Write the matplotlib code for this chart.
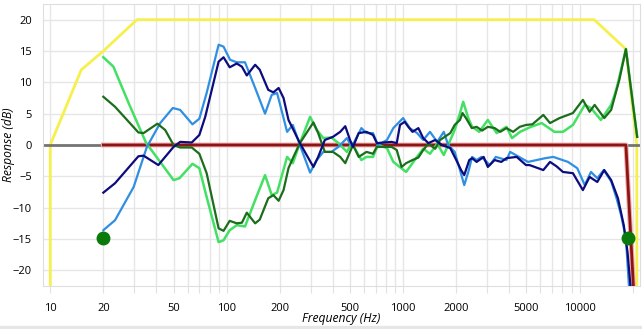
import matplotlib
matplotlib.use("Agg")
import matplotlib.pyplot as plt
from matplotlib.patches import Rectangle

plt.rcParams['font.family'] = ['Open Sans', 'DejaVu Sans']

# light blue trace
lb_f = [20, 23.3, 29.7, 35.3, 42, 49.5, 54.5, 64, 70, 77, 90, 96, 104.5, 114, 127, 145, 165, 180, 193,
        220, 237, 260, 297, 324, 353, 392, 430, 480, 512, 580, 620, 675, 720, 810, 880, 1000, 1090, 1200,
        1300, 1420, 1560, 1700, 1800, 1960, 2100, 2220, 2340, 2460, 2610, 2780, 3100, 3350, 3850, 4040,
        5100, 6400, 7100, 8600, 9700, 10700, 11600, 12600, 13700, 15100, 16200, 17200, 18300, 19100]
lb_db = [-13.6, -12.0, -6.7, -0.3, 3.5, 5.9, 5.6, 3.3, 4.2, 8.3, 16.0, 15.7, 13.6, 13.2, 13.2, 9.1, 5.0, 8.0, 8.3,
         2.1, 3.2, 0.0, -4.4, -2.4, -1.1, -1.1, -0.3, 1.1, -0.3, 2.7, 1.9, 1.9, 0.0, 0.8, 2.7, 4.3, 2.7, 1.9,
         0.8, 2.1, 0.5, 2.1, 0.0, -1.1, -4.0, -6.4, -4.3, -1.9, -2.4, -1.9, -3.2, -1.9, -2.4, -1.1,
         -2.7, -2.1, -1.9, -2.7, -3.7, -6.4, -4.3, -5.3, -4.0, -5.8, -8.5, -11.2, -14.9, -23.0]

# navy trace
nv_f = [20, 23.3, 31.6, 33.8, 41, 50, 54.5, 63.4, 70, 75.6, 90, 96, 104, 114, 122, 130, 145, 154, 172, 184,
        197, 210, 224, 239, 260, 310, 330, 360, 400, 440, 470, 500, 520, 560, 620, 675, 710, 860, 920, 960,
        1020, 1070, 1130, 1220, 1300, 1390, 1520, 1660, 1850, 2000, 2130, 2220, 2370, 2460, 2610, 2860,
        3020, 3300, 3600, 3850, 4400, 4970, 5200, 6230, 6800, 7400, 8050, 9170, 10440, 11400, 12600, 13800,
        15100, 16500, 17800, 18700, 19500]
nv_db = [-7.6, -6.1, -1.8, -1.7, -3.2, -0.3, 0.5, 0.4, 1.6, 4.5, 13.3, 14.0, 12.4, 13.0, 12.5, 11.1, 12.8, 12.0, 8.8, 8.4,
         9.1, 7.5, 4.0, 2.4, 0.3, -3.5, -1.9, 0.8, 1.3, 2.1, 3.0, 0.8, -0.3, 1.9, 2.1, 1.6, 0.3, 0.5, 0.3, 3.2,
         3.7, 2.9, 2.1, 2.7, 1.1, 0.3, 0.8, 0.0, -0.5, -2.4, -4.0, -4.8, -2.4, -2.1, -2.7, -1.9,
         -3.5, -2.4, -2.7, -2.1, -1.9, -3.2, -3.2, -4.0, -2.7, -3.4, -4.3, -4.5, -7.2, -5.1, -5.9, -4.0,
         -5.6, -8.5, -12.8, -17.1, -23.0]

# light green trace
lg_f = [20, 22.8, 28, 35, 40, 50, 54, 64, 70, 77, 90, 96, 104, 114, 127, 145, 165, 180, 193, 220, 237, 260,
        297, 324, 353, 392, 430, 480, 512, 580, 620, 675, 720, 810, 880, 1040, 1130, 1190, 1300, 1420, 1560,
        1700, 1800, 1960, 2100, 2190, 2340, 2460, 2700, 3020, 3390, 3850, 4140, 4600, 5300, 6100, 7200, 8050,
        9170, 10700, 11600, 13200, 15100, 15800, 16400, 18300, 21200]
lg_db = [14.0, 12.5, 6.5, 0.3, -1.9, -5.6, -5.3, -3.0, -3.7, -8.3, -15.5, -15.2, -13.6, -12.8, -13.0, -8.8, -4.8, -8.0, -7.6, -1.9, -2.9, 0.3,
         4.5, 2.4, 1.1, 1.2, 0.3, -1.1, 0.3, -2.4, -1.9, -1.9, 0.0, -0.5, -2.7, -4.3, -2.9, -2.0, -0.6, -1.4, 0.2,
         -1.6, 0.0, 2.4, 5.1, 6.9, 4.3, 2.9, 2.1, 4.0, 1.9, 2.9, 1.1, 2.1, 2.9, 3.5, 2.1, 2.1,
         3.2, 6.4, 5.9, 4.0, 6.4, 8.0, 9.6, 15.3, 1.3]

# dark green trace
dg_f = [20, 23.3, 31.6, 33.8, 40.5, 44.8, 50, 54.5, 63.4, 70, 77, 90, 96, 104, 114, 122, 130, 145, 154, 172,
        184, 197, 210, 224, 239, 260, 310, 330, 360, 400, 440, 470, 500, 520, 560, 620, 675, 710, 860, 920,
        980, 1040, 1130, 1220, 1300, 1390, 1520, 1620, 1850, 1960, 2100, 2170, 2270, 2450, 2610, 2800, 3020,
        3300, 3550, 3850, 4200, 4580, 4970, 5400, 6230, 6800, 7700, 9170, 10440, 11400, 12170, 13800,
        15100, 16800, 18300, 21200]
dg_db = [7.7, 6.1, 2.0, 1.9, 3.4, 2.4, 0.0, -0.4, -0.4, -1.4, -4.5, -13.3, -13.7, -12.1, -12.5, -12.4, -10.8, -12.5, -11.9, -8.5,
         -8.0, -8.9, -7.2, -3.7, -1.9, 0.3, 3.6, 1.9, -1.1, -1.1, -1.9, -2.9, -1.1, 0.0, -1.9, -1.1, -1.4, -0.3, -0.3, -0.8,
         -3.5, -2.9, -2.4, -2.0, -0.8, 0.2, -0.6, 0.8, 1.9, 3.2, 4.0, 5.1, 4.3, 2.7, 2.9, 2.3, 2.9,
         2.7, 2.1, 2.7, 2.1, 2.9, 3.2, 3.3, 4.8, 3.5, 4.3, 5.1, 7.2, 5.3, 6.4, 4.3,
         5.6, 10.4, 15.3, 1.3]

# target / limit curves
yel_f = [10, 10, 15, 20, 31, 12100, 18300, 21100, 21100]
yel_db = [-25, 0, 12, 15, 20, 20, 15.3, 0, -25]
red_f = [20, 18300, 20400]
red_db = [0, 0, -25]
dot_f = [20, 18750]
dot_db = [-14.8, -14.8]

major = [10, 20, 50, 100, 200, 500, 1000, 2000, 5000, 10000]
grid_f = [m * d for d in (10, 100, 1000) for m in range(1, 10)] + [10000, 20000]

fig = plt.figure(figsize=(6.42, 3.29), dpi=100)
ax = fig.add_axes([43 / 642, 1 - 286 / 329, 597 / 642, 282 / 329])

ax.plot(yel_f, yel_db, color='#f6f04c', lw=2, zorder=2)
ax.axhline(0, color='#747474', lw=2, zorder=2)
ax.plot(red_f, red_db, color='#f2a8a8', lw=3.5, zorder=3)
ax.plot(red_f, red_db, color='#8b1414', lw=2, zorder=3)
ax.plot(lg_f, lg_db, color='#44e064', lw=1.8, zorder=4)
ax.plot(lb_f, lb_db, color='#2f8fe2', lw=1.6, zorder=4)
ax.plot(dg_f, dg_db, color='#1b6d1b', lw=1.6, zorder=5)
ax.plot(nv_f, nv_db, color='#0c0c7e', lw=1.6, zorder=5)
ax.plot(dot_f, dot_db, 'o', color='#0a7a0a', ms=9, zorder=6)

ax.set_xscale('log')
ax.set_xlim(9.1, 22000)
ax.set_ylim(-22.5, 22.5)

ax.set_xticks(grid_f, [str(f) if f in major else '' for f in grid_f])
ax.xaxis.set_minor_locator(matplotlib.ticker.NullLocator())
ax.set_yticks(range(-20, 21, 5))
ax.tick_params(axis='x', length=5, color='#e2e2e2', labelsize=8, pad=7)
ax.tick_params(axis='y', length=0, labelsize=8, pad=8)
ax.grid(True, color='#e6e6e6', lw=1)
ax.set_axisbelow(True)
for s in ax.spines.values():
    s.set_color('#dedede')

ax.set_xlabel('Frequency (Hz)', style='italic', fontsize=8.7, labelpad=-1)
ax.set_ylabel('Response (dB)', style='italic', fontsize=8.7)
ax.yaxis.set_label_coords(-28 / 597, 0.5)

fig.patches.append(Rectangle((0, 0), 1, 3 / 329, transform=fig.transFigure, color='#e6e6e6'))
fig.savefig('out.png', dpi=100)
